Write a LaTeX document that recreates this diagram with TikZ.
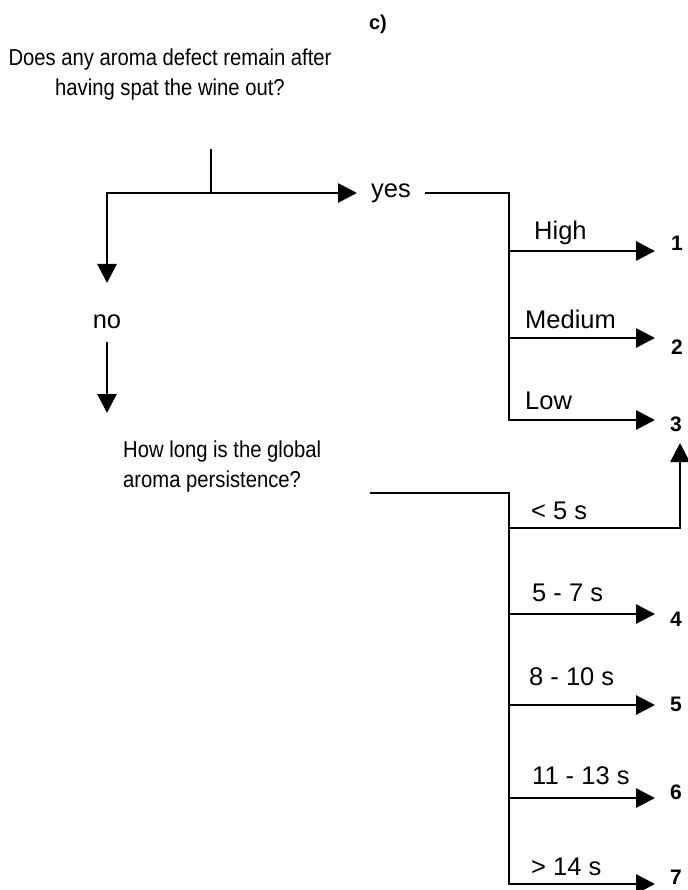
\documentclass[tikz,border=0pt]{standalone}
\usepackage{fontspec}
\setmainfont{Liberation Sans}
\newfontfamily\questfont{Liberation Sans}[FakeStretch=0.88]
\usetikzlibrary{arrows.meta}

\tikzset{
  question/.style={font=\questfont\fontsize{23}{30}\selectfont,inner sep=0pt},
  answer/.style={font=\fontsize{25.5}{30}\selectfont,inner sep=0pt},
  branch/.style={font=\fontsize{25.5}{30}\selectfont,inner sep=0pt,anchor=base west},
  outcome/.style={font=\bfseries\fontsize{21}{24}\selectfont,inner sep=0pt},
  rule/.style={line width=2.8pt},
  flow/.style={rule,-{Triangle[length=19pt,width=19pt]}},
}

\begin{document}
\begin{tikzpicture}[x=1pt,y=-1pt]
  \useasboundingbox (0,0) rectangle (687,890);
  \node[outcome,font=\bfseries\fontsize{20}{22}\selectfont] (tag) at (378,24) {c)};

  % first question
  \node[question,align=center] (q1) at (170,75)
    {Does any aroma defect remain after\\having spat the wine out?};
  \coordinate (q1foot) at (211,149);
  \coordinate (split) at (211,193);
  \coordinate (noarrow) at (107,283);
  \node[answer,anchor=west,inner xsep=14pt] (yes) at (357,193) {yes};
  \node[answer,inner ysep=13pt] (no) at (107,322) {no};
  \draw[rule] (q1foot) -- (split);
  \draw[flow] (split) -- (yes.west);
  \draw[flow] (split) -| (noarrow);

  % yes: defect intensity
  \coordinate (yesturn) at (509,193);
  \coordinate (forkhigh) at (509,251);
  \coordinate (forkmed) at (509,338);
  \coordinate (tip1) at (655,251);
  \coordinate (tip2) at (655,338);
  \coordinate (tip3) at (655,420);
  \draw[flow] (yes.east) -- (yesturn) |- (tip3);
  \draw[flow] (forkhigh) -- (tip1);
  \draw[flow] (forkmed) -- (tip2);
  \node[branch] (high) at (534,240) {High};
  \node[branch] (medium) at (525,328) {Medium};
  \node[branch] (low) at (525,409) {Low};
  \node[outcome] (o1) at (677,243) {1};
  \node[outcome] (o2) at (677,347) {2};
  \node[outcome] (o3) at (676,424) {3};

  % no: persistence
  \coordinate (q2in) at (107,413);
  \draw[flow] (no) -- (q2in);
  \node[question,align=left,anchor=west] (q2) at (123,467)
    {How long is the global\\aroma persistence?};
  \coordinate (q2out) at (370,493);
  \coordinate (q2turn) at (509,493);
  \coordinate (fork5) at (509,528);
  \coordinate (fork4) at (509,614);
  \coordinate (fork6) at (509,705);
  \coordinate (fork7) at (509,798);
  \coordinate (tip3up) at (680,443);
  \coordinate (tip4) at (655,614);
  \coordinate (tip5) at (655,705);
  \coordinate (tip6) at (655,798);
  \coordinate (tip7) at (655,884);
  \draw[flow] (q2out) -- (q2turn) |- (tip7);
  \draw[flow] (fork5) -| (tip3up);
  \draw[flow] (fork4) -- (tip4);
  \draw[flow] (fork6) -- (tip5);
  \draw[flow] (fork7) -- (tip6);
  \node[branch] (lt5) at (531,519) {< 5 s};
  \node[branch] (s57) at (532,601) {5 - 7 s};
  \node[branch] (s810) at (529,685) {8 - 10 s};
  \node[branch] (s1113) at (532,784) {11 - 13 s};
  \node[branch] (gt14) at (531,875) {> 14 s};
  \node[outcome] (o4) at (676,619) {4};
  \node[outcome] (o5) at (676,704) {5};
  \node[outcome] (o6) at (676,792) {6};
  \node[outcome] (o7) at (676,877) {7};
\end{tikzpicture}
\end{document}
